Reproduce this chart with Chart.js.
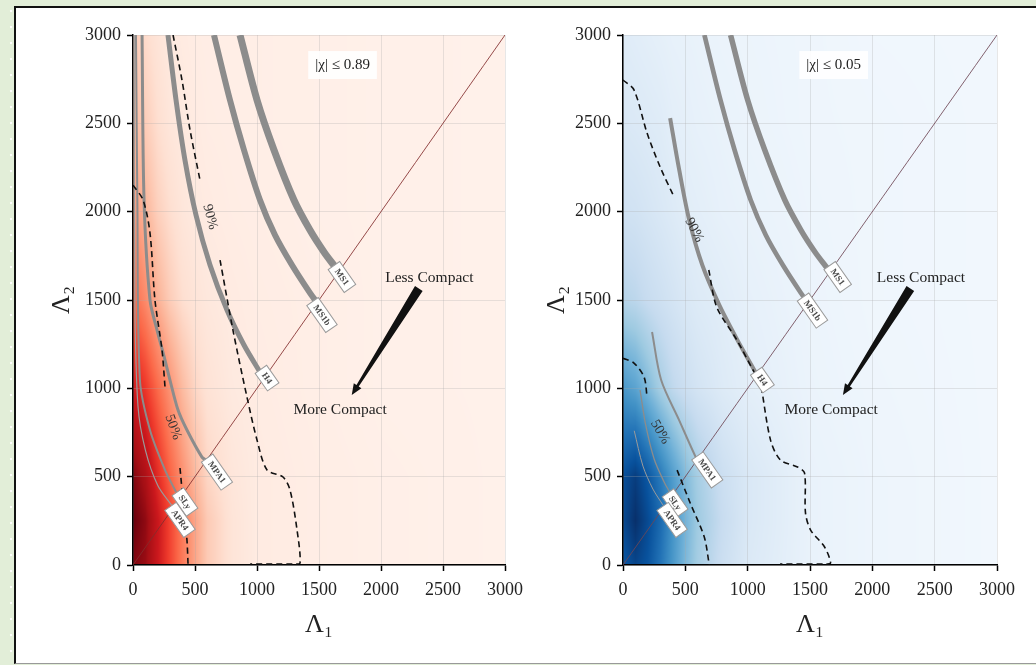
<!DOCTYPE html>
<html lang="en">
<head>
<meta charset="UTF-8">
<title>Tidal deformability</title>
<script src="https://cdn.jsdelivr.net/npm/chart.js"></script>
<style>
  body {
    margin: 0; width: 1036px; height: 665px; overflow: hidden; position: relative;
    background-color: #e2eed8;
    background-image: radial-gradient(circle, rgba(255,255,255,0.95) 1px, transparent 1.6px);
    background-size: 16px 16px; background-position: 3px 3px;
  }
  #panel {
    position: absolute; left: 14px; top: 6px; width: 1030px; height: 655px; background: #fff;
    border-left: 2px solid #111; border-top: 2px solid #111; border-bottom: 1px solid #999;
  }
  canvas { position: absolute; top: 10px; }
</style>
</head>
<body>
<div id="panel"></div>
<canvas id="leftChart" width="520" height="650" style="left:20px"></canvas>
<canvas id="rightChart" width="526" height="650" style="left:510px"></canvas>
<script>
// ---- data (Lambda_1, Lambda_2) ----
const lambdaTicks = [0, 500, 1000, 1500, 2000, 2500, 3000];

// posterior density, rows are Lambda_2, columns Lambda_1
const densityCols = [0, 100, 200, 300, 400, 500, 600, 800, 1000, 1500, 2000, 3000];
const densityRows = [0, 250, 500, 1000, 1500, 2000, 2500, 3000];
const redDensity = [
  [0.95, 0.90, 0.75, 0.60, 0.45, 0.32, 0.20, 0.10, 0.06, 0.045, 0.035, 0.025],
  [1.00, 0.92, 0.76, 0.60, 0.45, 0.32, 0.20, 0.10, 0.06, 0.045, 0.035, 0.025],
  [0.95, 0.85, 0.68, 0.52, 0.38, 0.26, 0.16, 0.09, 0.06, 0.045, 0.035, 0.025],
  [0.74, 0.64, 0.50, 0.37, 0.25, 0.16, 0.11, 0.07, 0.055, 0.04, 0.03, 0.025],
  [0.50, 0.40, 0.28, 0.19, 0.13, 0.10, 0.08, 0.06, 0.05, 0.04, 0.03, 0.025],
  [0.35, 0.27, 0.18, 0.13, 0.09, 0.07, 0.06, 0.05, 0.045, 0.035, 0.03, 0.025],
  [0.26, 0.19, 0.13, 0.09, 0.07, 0.06, 0.05, 0.045, 0.04, 0.035, 0.03, 0.025],
  [0.20, 0.14, 0.10, 0.07, 0.06, 0.05, 0.045, 0.04, 0.04, 0.035, 0.03, 0.025]
];
const blueDensity = [
  [0.85, 0.92, 0.86, 0.74, 0.60, 0.46, 0.35, 0.22, 0.14, 0.07, 0.05, 0.03],
  [0.90, 1.00, 0.90, 0.78, 0.62, 0.48, 0.37, 0.24, 0.15, 0.07, 0.05, 0.03],
  [0.88, 0.95, 0.85, 0.72, 0.58, 0.45, 0.35, 0.22, 0.15, 0.07, 0.05, 0.03],
  [0.60, 0.55, 0.45, 0.35, 0.27, 0.22, 0.18, 0.13, 0.10, 0.06, 0.045, 0.03],
  [0.30, 0.28, 0.24, 0.21, 0.18, 0.15, 0.13, 0.11, 0.085, 0.055, 0.04, 0.03],
  [0.20, 0.19, 0.17, 0.15, 0.13, 0.11, 0.10, 0.08, 0.07, 0.05, 0.04, 0.03],
  [0.15, 0.14, 0.13, 0.12, 0.10, 0.09, 0.08, 0.07, 0.06, 0.045, 0.04, 0.03],
  [0.12, 0.11, 0.10, 0.09, 0.08, 0.075, 0.07, 0.06, 0.055, 0.045, 0.035, 0.03]
];

const diagonal = [[0, 0], [3000, 3000]];

// EOS predictions, shared shape for the stiff ones
const ms1Curve = [[863, 3000], [1000, 2632], [1137, 2349], [1298, 2066], [1427, 1896], [1540, 1772], [1637, 1681]];
const ms1bCurve = [[653, 3000], [782, 2632], [895, 2349], [1024, 2066], [1145, 1868], [1282, 1698], [1427, 1540], [1480, 1489]];

// left panel, |chi| <= 0.89
const dash90Left = [[323, 3000], [395, 2745], [460, 2462], [540, 2180], null,
  [702, 1726], [806, 1330], [919, 951], [1000, 708], [1081, 538], [1210, 498], [1266, 425],
  [1323, 198], [1347, 11], [1300, 6], [945, 6]];
const dash50Left = [[0, 2150], [81, 2066], [137, 1879], [177, 1500], [234, 1217], [258, 1008], null,
  [379, 549], [403, 368], [435, 142], [444, 0]];
const h4Left = [[282, 3000], [347, 2632], [419, 2292], [508, 1981], [621, 1698], [758, 1443], [895, 1245], [1030, 1085]];
const mpa1Left = [[73, 3000], [89, 2066], [137, 1500], [194, 1330], [258, 1160], [298, 1047], [363, 877], [435, 764], [556, 611], [595, 592]];
const slyLeft = [[24, 3000], [35, 2066], [56, 1047], [137, 764], [258, 538], [347, 413]];
const apr4Left = [[10, 3000], [15, 1500], [40, 900], [100, 650], [200, 450], [320, 330]];

// right panel, |chi| <= 0.05
const dash90Right = [[0, 2745], [88, 2689], [193, 2445], [298, 2253], [410, 2083], null,
  [688, 1670], [752, 1460], [913, 1274], [1074, 1064], [1098, 1047], [1183, 708], [1263, 594],
  [1400, 555], [1456, 521], [1464, 294], [1505, 198], [1617, 102], [1665, 11], [1620, 6], [1260, 6]];
const dash50Right = [[0, 1170], [88, 1143], [169, 1064], [193, 951], null,
  [434, 537], [539, 351], [652, 158], [692, 0]];
const h4Right = [[378, 2530], [451, 2236], [531, 1953], [636, 1698], [772, 1472], [917, 1274], [1062, 1092]];
const mpa1Right = [[233, 1319], [306, 1047], [450, 820], [587, 605], [600, 598]];
const slyRight = [[137, 990], [180, 800], [250, 600], [330, 470], [385, 400]];
const apr4Right = [[90, 760], [160, 560], [240, 430], [320, 340]];

// annotations, anchored in data units
const eosLabelsLeft = [['MS1', 1685, 1630], ['MS1b', 1524, 1415], ['H4', 1081, 1058],
  ['MPA1', 677, 526], ['SLy', 419, 357], ['APR4', 379, 255]];
const eosLabelsRight = [['MS1', 1722, 1630], ['MS1b', 1520, 1440], ['H4', 1118, 1047],
  ['MPA1', 676, 538], ['SLy', 418, 351], ['APR4', 394, 255]];
const pctLabelsLeft = [['90%', 621, 1970, 75], ['50%', 323, 781, 70]];
const pctLabelsRight = [['90%', 571, 1896, 62], ['50%', 298, 753, 60]];

const reds = ['#fff5f0', '#fee0d2', '#fcbba1', '#fc9272', '#fb6a4a', '#ef3b2c', '#cb181d', '#a50f15', '#67000d'];
const blues = ['#f7fbff', '#deebf7', '#c6dbef', '#9ecae1', '#6baed6', '#4292c6', '#2171b5', '#08519c', '#08306b'];

const serif = "'Liberation Serif', 'DejaVu Serif', serif";

function hexRgb(h) {
  return [parseInt(h.slice(1, 3), 16), parseInt(h.slice(3, 5), 16), parseInt(h.slice(5, 7), 16)];
}

function cmap(stops, t) {
  t = Math.max(0, Math.min(1, t)) * (stops.length - 1);
  const i = Math.min(Math.floor(t), stops.length - 2), f = t - i;
  const a = hexRgb(stops[i]), b = hexRgb(stops[i + 1]);
  return [a[0] + (b[0] - a[0]) * f, a[1] + (b[1] - a[1]) * f, a[2] + (b[2] - a[2]) * f];
}

function findCell(arr, v) {
  let i = 0;
  while (i < arr.length - 2 && v > arr[i + 1]) i++;
  const f = Math.max(0, Math.min(1, (v - arr[i]) / (arr[i + 1] - arr[i])));
  return [i, f];
}

function density(grid, u, v) {
  const [i, fx] = findCell(densityCols, u);
  const [j, fy] = findCell(densityRows, v);
  const a = grid[j][i] * (1 - fx) + grid[j][i + 1] * fx;
  const b = grid[j + 1][i] * (1 - fx) + grid[j + 1][i + 1] * fx;
  return a * (1 - fy) + b * fy;
}

const panels = {
  left: { grid: redDensity, stops: reds, eos: eosLabelsLeft, pct: pctLabelsLeft, spin: '|χ| ≤ 0.89' },
  right: { grid: blueDensity, stops: blues, eos: eosLabelsRight, pct: pctLabelsRight, spin: '|χ| ≤ 0.05' }
};

const heatmapPlugin = {
  id: 'heatmap',
  beforeDraw(chart) {
    const p = panels[chart.canvas.dataset.side];
    const { ctx, chartArea: a, scales: { x, y } } = chart;
    const left = Math.round(a.left), top = Math.round(a.top);
    const w = Math.round(a.right) - left, h = Math.round(a.bottom) - top;
    const img = ctx.createImageData(w, h);
    for (let j = 0; j < h; j++) {
      const v = y.getValueForPixel(top + j + 0.5);
      for (let i = 0; i < w; i++) {
        const u = x.getValueForPixel(left + i + 0.5);
        const c = cmap(p.stops, density(p.grid, u, v));
        const k = (j * w + i) * 4;
        img.data[k] = c[0]; img.data[k + 1] = c[1]; img.data[k + 2] = c[2]; img.data[k + 3] = 255;
      }
    }
    ctx.putImageData(img, left, top);
  }
};

function drawWedge(ctx, x0, y0, x1, y1) {
  const dx = x1 - x0, dy = y1 - y0, L = Math.hypot(dx, dy);
  const ux = dx / L, uy = dy / L, nx = -uy, ny = ux;
  const hx = x1 - ux * 11, hy = y1 - uy * 11;
  ctx.beginPath();
  ctx.moveTo(x0 + nx * 4.5, y0 + ny * 4.5);
  ctx.lineTo(hx + nx * 1.3, hy + ny * 1.3);
  ctx.lineTo(hx + nx * 4.5, hy + ny * 4.5);
  ctx.lineTo(x1, y1);
  ctx.lineTo(hx - nx * 4.5, hy - ny * 4.5);
  ctx.lineTo(hx - nx * 1.3, hy - ny * 1.3);
  ctx.lineTo(x0 - nx * 4.5, y0 - ny * 4.5);
  ctx.closePath();
  ctx.fill();
}

const notesPlugin = {
  id: 'notes',
  afterDatasetsDraw(chart) {
    const p = panels[chart.canvas.dataset.side];
    const { ctx, scales: { x, y } } = chart;
    ctx.save();

    // EOS name boxes on the diagonal
    ctx.font = 'bold 9px ' + serif;
    ctx.textAlign = 'center';
    ctx.textBaseline = 'middle';
    p.eos.forEach(([name, a, b]) => {
      const w = ctx.measureText(name).width + 10;
      ctx.save();
      ctx.translate(x.getPixelForValue(a), y.getPixelForValue(b));
      ctx.rotate(55 * Math.PI / 180);
      ctx.fillStyle = '#fff';
      ctx.strokeStyle = '#9a9a9a';
      ctx.lineWidth = 1;
      ctx.fillRect(-w / 2, -7, w, 14);
      ctx.strokeRect(-w / 2, -7, w, 14);
      ctx.fillStyle = '#4a4a4a';
      ctx.fillText(name, 0, 0.5);
      ctx.restore();
    });

    // contour level labels
    ctx.font = '14px ' + serif;
    ctx.fillStyle = '#333';
    p.pct.forEach(([t, a, b, rot]) => {
      ctx.save();
      ctx.translate(x.getPixelForValue(a), y.getPixelForValue(b));
      ctx.rotate(rot * Math.PI / 180);
      ctx.fillText(t, 0, 0);
      ctx.restore();
    });

    // spin prior box
    ctx.font = '15px ' + serif;
    const sx = x.getPixelForValue(1690), sy = y.getPixelForValue(2830);
    const sw = ctx.measureText(p.spin).width + 14;
    ctx.fillStyle = 'rgba(255,255,255,0.9)';
    ctx.fillRect(sx - sw / 2, sy - 14, sw, 28);
    ctx.fillStyle = '#222';
    ctx.fillText(p.spin, sx, sy);

    // compactness arrow and labels
    ctx.font = '15.5px ' + serif;
    ctx.fillText('Less Compact', x.getPixelForValue(2390), y.getPixelForValue(1625));
    ctx.fillText('More Compact', x.getPixelForValue(1670), y.getPixelForValue(877));
    ctx.fillStyle = '#111';
    drawWedge(ctx, x.getPixelForValue(2305), y.getPixelForValue(1565),
      x.getPixelForValue(1764), y.getPixelForValue(962));
    ctx.restore();
  }
};

function toPoints(arr) {
  return arr.map(p => p ? { x: p[0], y: p[1] } : { x: null, y: null });
}

function line(arr, color, width, dash) {
  return {
    data: toPoints(arr), borderColor: color, borderWidth: width, borderDash: dash || [],
    showLine: true, pointRadius: 0, tension: 0.3, spanGaps: false, fill: false
  };
}

function makeChart(id, side, padRight, titlePad, curves) {
  const canvas = document.getElementById(id);
  canvas.dataset.side = side;
  const tickFont = { family: serif, size: 18 };
  const titleFont = { family: serif, size: 26 };
  const grid = { color: 'rgba(170,170,170,0.28)', tickColor: '#000', tickLength: 6, tickWidth: 1.5 };
  new Chart(canvas, {
    type: 'scatter',
    data: { datasets: curves },
    options: {
      responsive: false,
      animation: false,
      devicePixelRatio: 1,
      layout: { padding: { top: 25, right: padRight, left: 0, bottom: 0 } },
      plugins: { legend: { display: false }, tooltip: { enabled: false } },
      scales: {
        x: {
          type: 'linear', min: 0, max: 3000,
          afterBuildTicks: s => { s.ticks = lambdaTicks.map(v => ({ value: v })); },
          afterFit: s => { s.height = 95; },
          ticks: { font: tickFont, color: '#222', padding: 8, maxRotation: 0, callback: v => String(v) },
          grid: grid,
          border: { display: true, color: '#000', width: 1.5 },
          title: { display: true, text: 'Λ₁', font: titleFont, color: '#222', padding: { top: 0, bottom: 19 } }
        },
        y: {
          type: 'linear', min: 0, max: 3000,
          afterBuildTicks: s => { s.ticks = lambdaTicks.map(v => ({ value: v })); },
          afterFit: s => { s.width = 113; },
          ticks: { font: tickFont, color: '#222', padding: 6, callback: v => String(v) },
          grid: grid,
          border: { display: true, color: '#000', width: 1.5 },
          title: { display: true, text: 'Λ₂', font: titleFont, color: '#222', padding: { top: titlePad, bottom: 0 } }
        }
      }
    },
    plugins: [heatmapPlugin, notesPlugin]
  });
}

const gray = '#8c8c8c';
const dashStyle = [6, 4];

makeChart('leftChart', 'left', 35, 27, [
  line(dash90Left, '#111', 1.6, dashStyle),
  line(dash50Left, '#111', 1.6, dashStyle),
  line(apr4Left, '#9a9a9a', 1.2),
  line(slyLeft, gray, 2),
  line(mpa1Left, gray, 3),
  line(h4Left, gray, 5),
  line(ms1bCurve, gray, 6),
  line(ms1Curve, gray, 7),
  line(diagonal, 'rgba(130,45,45,0.85)', 1)
]);

makeChart('rightChart', 'right', 39, 32, [
  line(dash90Right, '#111', 1.6, dashStyle),
  line(dash50Right, '#111', 1.6, dashStyle),
  line(apr4Right, '#9a9a9a', 1),
  line(slyRight, gray, 1.3),
  line(mpa1Right, gray, 2),
  line(h4Right, gray, 4),
  line(ms1bCurve, gray, 4.7),
  line(ms1Curve, gray, 5.5),
  line(diagonal, 'rgba(110,70,85,0.85)', 1)
]);
</script>
</body>
</html>
